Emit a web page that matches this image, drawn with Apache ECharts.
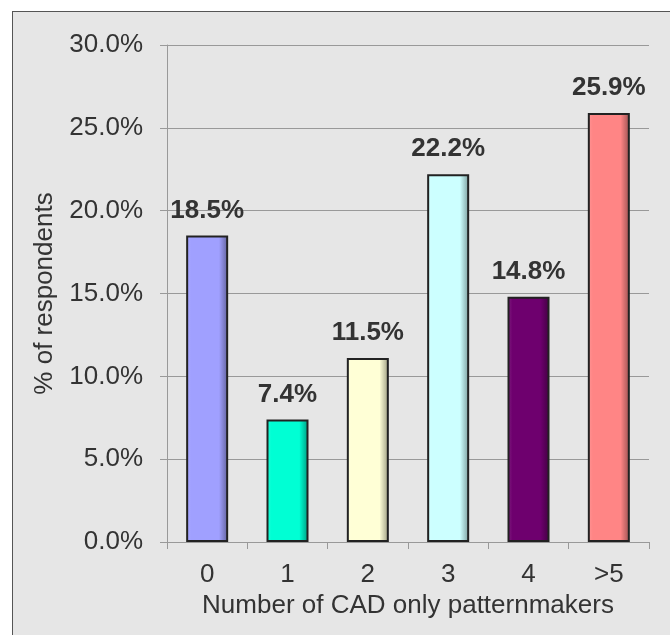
<!DOCTYPE html>
<html><head><meta charset="utf-8">
<script src="https://cdn.jsdelivr.net/npm/echarts@6/dist/echarts.min.js"></script>
<style>
html,body{margin:0;padding:0;background:#fff;width:670px;height:635px;overflow:hidden;}
#frame{position:absolute;left:12px;top:11px;width:700px;height:700px;background:#e6e6e6;border:1px solid #555;}
#chart{position:absolute;left:0;top:0;width:670px;height:635px;}
</style></head>
<body>
<div id="frame"></div>
<div id="chart"></div>
<script>
const categories = ['0', '1', '2', '3', '4', '>5'];
const values = [18.5, 7.4, 11.1, 22.2, 14.8, 25.9];
const valueLabels = ['18.5%', '7.4%', '11.5%', '22.2%', '14.8%', '25.9%'];
const barColors = ['#a0a0ff', '#00ffd4', '#ffffd6', '#ccffff', '#6e006e', '#ff8585'];
const yTicks = [0, 5, 10, 15, 20, 25, 30];

function shade(hex, f) {
  const n = parseInt(hex.slice(1), 16);
  let r = (n >> 16) & 255, g = (n >> 8) & 255, b = n & 255;
  if (f < 0) { r = Math.round(r * (1 + f)); g = Math.round(g * (1 + f)); b = Math.round(b * (1 + f)); }
  else { r = Math.round(r + (255 - r) * f); g = Math.round(g + (255 - g) * f); b = Math.round(b + (255 - b) * f); }
  return 'rgb(' + r + ',' + g + ',' + b + ')';
}

const chart = echarts.init(document.getElementById('chart'), null, {renderer: 'canvas'});
const font = '"Liberation Sans", Arial, sans-serif';
chart.setOption({
  backgroundColor: 'transparent',
  animation: false,
  grid: {left: 167, right: 21, top: 45, bottom: 93, containLabel: false},
  xAxis: {
    type: 'category',
    data: categories,
    name: 'Number of CAD only patternmakers',
    nameLocation: 'middle',
    nameGap: 50,
    nameTextStyle: {fontFamily: font, fontSize: 26, color: '#333'},
    axisLine: {lineStyle: {color: '#999', width: 1}},
    axisTick: {show: true, alignWithLabel: false, length: 7, lineStyle: {color: '#999'}},
    axisLabel: {fontFamily: font, fontSize: 26, color: '#333', margin: 20}
  },
  yAxis: {
    type: 'value',
    min: 0, max: 30, interval: 5,
    name: '% of respondents',
    nameLocation: 'middle',
    nameGap: 109,
    nameTextStyle: {fontFamily: font, fontSize: 26, color: '#333'},
    axisLine: {show: true, lineStyle: {color: '#999', width: 1}},
    axisTick: {show: true, length: 7, lineStyle: {color: '#999'}},
    axisLabel: {fontFamily: font, fontSize: 26, color: '#333', margin: 24,
      formatter: v => yTicks.indexOf(v) >= 0 ? v.toFixed(1) + '%' : ''},
    splitLine: {show: true, lineStyle: {color: '#999', width: 1}}
  },
  series: [{
    type: 'bar',
    barWidth: 42,
    data: values.map((v, i) => ({
      value: v,
      itemStyle: {
        color: new echarts.graphic.LinearGradient(0, 0, 1, 0, [
          {offset: 0, color: shade(barColors[i], 0.12)},
          {offset: 0.12, color: barColors[i]},
          {offset: 0.78, color: barColors[i]},
          {offset: 1, color: shade(barColors[i], -0.4)}
        ]),
        borderColor: '#222',
        borderWidth: 2
      },
      label: {formatter: valueLabels[i]}
    })),
    label: {show: true, position: 'top', distance: 12,
      fontFamily: font, fontSize: 26, fontWeight: 'bold', color: '#333'}
  }]
});
</script>
</body></html>
